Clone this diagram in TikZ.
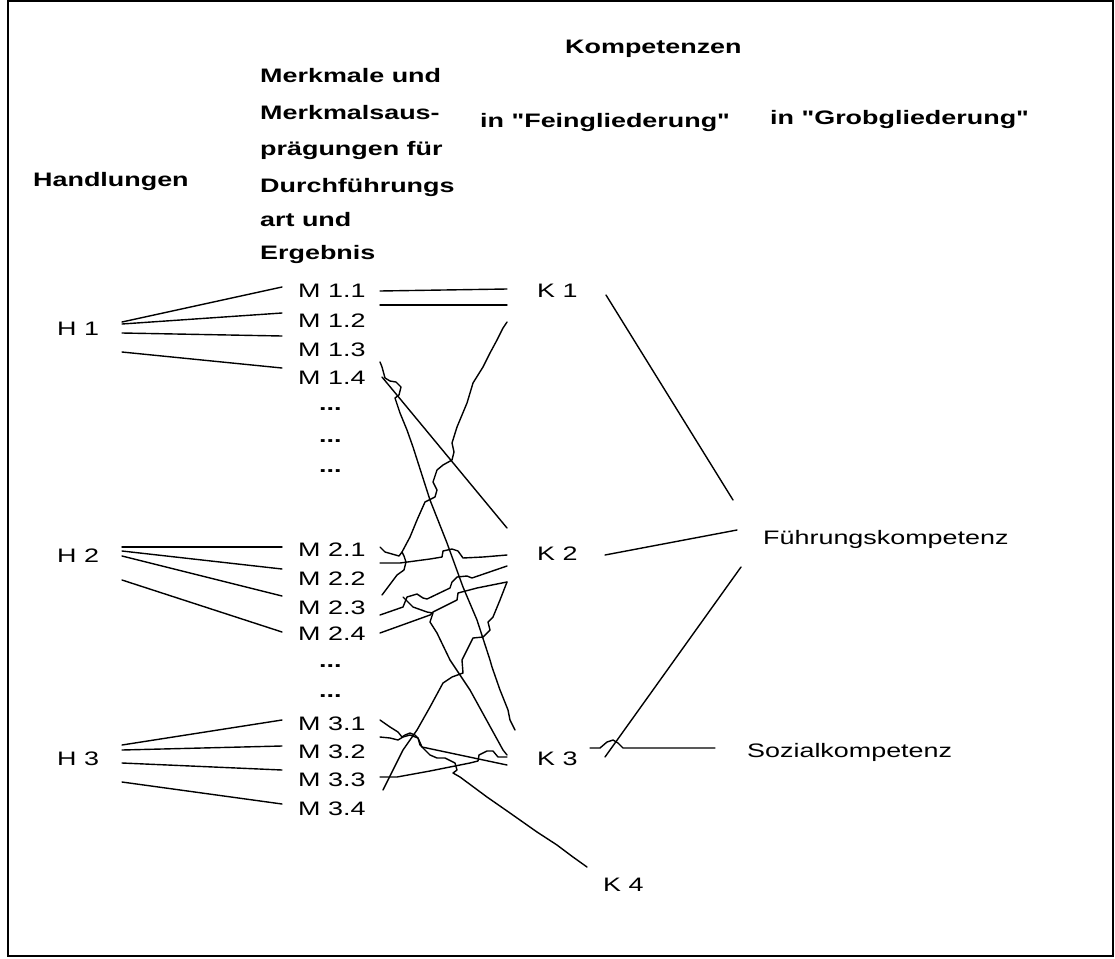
\documentclass[tikz,border=0pt]{standalone}
\usepackage{fontspec}
\newfontfamily\arialx{Liberation Sans}[FakeStretch=1.38]
\begin{document}
\begin{tikzpicture}[x=1pt,y=-1pt,
  lbl/.style={inner sep=0pt, anchor=base west, font=\arialx\fontsize{19.5}{23}\selectfont},
  hdr/.style={lbl, font=\arialx\bfseries\fontsize{19.5}{23}\selectfont},
  conn/.style={line width=1.4pt, line join=round, line cap=round},
  frame/.style={line width=2.5pt}]
\useasboundingbox (0,0) rectangle (1115,958);
\draw[frame] (8,1) rectangle (1113,956);

% headers
\node[hdr] (hand) at (33,186) {Handlungen};
\node[hdr] (mk1) at (260,82) {Merkmale und};
\node[hdr] (mk2) at (260,119) {Merkmalsaus-};
\node[hdr] (mk3) at (260,155) {prägungen für};
\node[hdr] (mk4) at (260,192) {Durchführungs};
\node[hdr] (mk5) at (260,226) {art und};
\node[hdr] (mk6) at (260,259) {Ergebnis};
\node[hdr] (komp) at (565,54) {Kompetenzen};
\node[hdr] (fein) at (480,127) {in "Feingliederung"};
\node[hdr] (grob) at (770,124) {in "Grobgliederung"};

% Handlungen
\node[lbl] (h1) at (57,335) {H 1};
\node[lbl] (h2) at (57,562) {H 2};
\node[lbl] (h3) at (57,765) {H 3};

% Merkmale
\node[lbl] (m11) at (298,297) {M 1.1};
\node[lbl] (m12) at (298,327) {M 1.2};
\node[lbl] (m13) at (298,356) {M 1.3};
\node[lbl] (m14) at (298,384) {M 1.4};
\node[hdr] (d1) at (319,410) {...};
\node[hdr] (d2) at (319,442) {...};
\node[hdr] (d3) at (319,472) {...};
\node[lbl] (m21) at (298,556) {M 2.1};
\node[lbl] (m22) at (298,585) {M 2.2};
\node[lbl] (m23) at (298,614) {M 2.3};
\node[lbl] (m24) at (298,640) {M 2.4};
\node[hdr] (d4) at (319,667) {...};
\node[hdr] (d5) at (319,697) {...};
\node[lbl] (m31) at (298,730) {M 3.1};
\node[lbl] (m32) at (298,758) {M 3.2};
\node[lbl] (m33) at (298,786) {M 3.3};
\node[lbl] (m34) at (298,815) {M 3.4};

% Kompetenzen
\node[lbl] (k1) at (537,297) {K 1};
\node[lbl] (k2) at (537,560) {K 2};
\node[lbl] (k3) at (537,765) {K 3};
\node[lbl] (k4) at (603,891) {K 4};
\node[lbl] (fk) at (763,544) {Führungskompetenz};
\node[lbl] (sk) at (747,757) {Sozialkompetenz};

% connector end points
\coordinate (h1a) at (122,322); \coordinate (m11w) at (282,287);
\coordinate (h1b) at (122,324); \coordinate (m12w) at (282,313);
\coordinate (h1c) at (122,333); \coordinate (m13w) at (282,336);
\coordinate (h1d) at (122,352); \coordinate (m14w) at (282,368);
\coordinate (h2a) at (122,547); \coordinate (m21w) at (282,547);
\coordinate (h2b) at (122,551); \coordinate (m22w) at (282,569);
\coordinate (h2c) at (122,556); \coordinate (m23w) at (282,596);
\coordinate (h2d) at (122,580); \coordinate (m24w) at (282,632);
\coordinate (h3a) at (122,745); \coordinate (m31w) at (282,720);
\coordinate (h3b) at (122,750); \coordinate (m32w) at (282,746);
\coordinate (h3c) at (122,763); \coordinate (m33w) at (282,770);
\coordinate (h3d) at (122,782); \coordinate (m34w) at (282,804);

\draw[conn] (h1a) -- (m11w);
\draw[conn] (h1b) -- (m12w);
\draw[conn] (h1c) -- (m13w);
\draw[conn] (h1d) -- (m14w);
\draw[conn] (h2a) -- (m21w);
\draw[conn] (h2b) -- (m22w);
\draw[conn] (h2c) -- (m23w);
\draw[conn] (h2d) -- (m24w);
\draw[conn] (h3a) -- (m31w);
\draw[conn] (h3b) -- (m32w);
\draw[conn] (h3c) -- (m33w);
\draw[conn] (h3d) -- (m34w);

% M -> K connectors
\coordinate (m11e) at (380,291); \coordinate (k1a) at (507,289);
\coordinate (m12e) at (380,305); \coordinate (k1b) at (507,305);
\coordinate (k1c) at (507,322); \coordinate (m2x) at (382,595);
\coordinate (m14e) at (380,362); \coordinate (k3a) at (515,730);
\coordinate (m14f) at (382,377); \coordinate (k2a) at (507,528);
\coordinate (m21e) at (380,563); \coordinate (k2b) at (507,555);
\coordinate (m21f) at (380,547);
\coordinate (m23e) at (380,615); \coordinate (k2c) at (507,566);
\coordinate (m24e) at (380,633); \coordinate (k2d) at (507,582);
\coordinate (m23f) at (403,597); \coordinate (k3b) at (507,755);
\coordinate (m33e) at (383,790);
\coordinate (m31e) at (380,720); \coordinate (k4a) at (587,867);
\coordinate (m32e) at (380,737); \coordinate (k3c) at (507,765);
\coordinate (m33f) at (380,777); \coordinate (k3d) at (507,757);

\draw[conn] (m11e) -- (k1a);
\draw[conn] (m12e) -- (k1b);
\draw[conn] (k1c) -- (503,328) -- (497,340) -- (490,353) -- (483,367) -- (473,383)
  -- (467,403) -- (457,427) -- (452,443) -- (454,452) -- (452,460) -- (443,465)
  -- (437,470) -- (433,482) -- (437,490) -- (435,497) -- (425,502) -- (417,520)
  -- (410,537) -- (402,552) -- (404,556) -- (406,562) -- (404,570) -- (397,575)
  -- (388,587) -- (m2x);
\draw[conn] (m21f) -- (385,552) -- (392,554) -- (399,556) -- (402,552);
\draw[conn] (m14e) -- (382,367) -- (385,378) -- (390,381) -- (396,382) -- (401,387)
  -- (399,395) -- (395,398) -- (397,404) -- (400,413) -- (407,430) -- (413,447)
  -- (430,500) -- (447,543) -- (463,587) -- (477,620) -- (490,660) -- (492,667)
  -- (500,690) -- (508,710) -- (510,720) -- (k3a);
\draw[conn] (m14f) -- (k2a);
\draw[conn] (m21e) -- (400,563) -- (430,559) -- (442,557) -- (443,551) -- (452,549)
  -- (458,551) -- (463,558) -- (483,557) -- (k2b);
\draw[conn] (m23e) -- (403,607) -- (407,597) -- (417,594) -- (423,598) -- (427,599)
  -- (450,588) -- (452,582) -- (457,577) -- (467,576) -- (472,578) -- (k2c);
\draw[conn] (m24e) -- (430,615) -- (433,612) -- (457,600) -- (458,593) -- (477,588) -- (k2d);
\draw[conn] (m23f) -- (413,607) -- (427,612) -- (433,613) -- (430,622) -- (437,633)
  -- (450,660) -- (470,690) -- (503,750) -- (k3b);
\draw[conn] (k2d) -- (500,600) -- (493,617) -- (488,622) -- (490,630) -- (483,637)
  -- (473,638) -- (467,650) -- (462,660) -- (463,673) -- (452,677) -- (443,683)
  -- (430,707) -- (417,730) -- (403,750) -- (m33e);
\draw[conn] (m31e) -- (390,727) -- (398,732) -- (402,737) -- (405,735) -- (410,733)
  -- (415,735) -- (418,738) -- (420,745) -- (423,748) -- (430,755) -- (437,758)
  -- (445,758) -- (455,763) -- (457,770) -- (453,773) -- (460,777) -- (487,797)
  -- (510,813) -- (537,832) -- (557,845) -- (573,857) -- (k4a);
\draw[conn] (m32e) -- (390,738) -- (398,740) -- (403,737) -- (410,735) -- (418,738)
  -- (422,747) -- (k3c);
\draw[conn] (m33f) -- (397,777) -- (430,771) -- (455,766) -- (470,763) -- (478,761)
  -- (479,755) -- (487,751) -- (493,751) -- (498,757) -- (503,757) -- (k3d);

% K -> Grobgliederung
\coordinate (k1e) at (606,295); \coordinate (fka) at (733,500);
\coordinate (k2e) at (605,555); \coordinate (fkb) at (737,530);
\coordinate (fkc) at (741,567); \coordinate (k3f) at (605,757);
\coordinate (k3e) at (590,748); \coordinate (ska) at (715,748);
\draw[conn] (k1e) -- (fka);
\draw[conn] (k2e) -- (fkb);
\draw[conn] (fkc) -- (k3f);
\draw[conn] (k3e) -- (600,748) -- (607,742) -- (613,740) -- (618,743) -- (623,748) -- (ska);
\end{tikzpicture}
\end{document}
